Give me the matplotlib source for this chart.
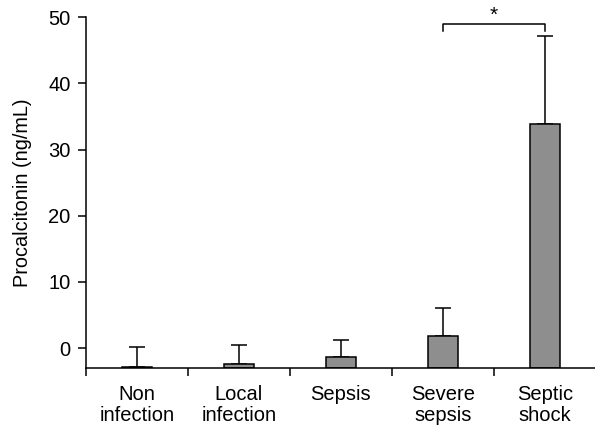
import matplotlib
matplotlib.use('Agg')
import matplotlib.pyplot as plt
import numpy as np

plt.rcParams['font.family'] = ['Liberation Sans', 'DejaVu Sans']

groups = ['Non\ninfection', 'Local\ninfection', 'Sepsis', 'Severe\nsepsis', 'Septic\nshock']
means = [-2.8, -2.35, -1.3, 1.8, 33.8]
upper_err = [2.95, 2.9, 2.6, 4.2, 13.4]
ybottom = -3.0

x = np.arange(len(groups))

fig = plt.figure(figsize=(5.95, 4.28), dpi=100)
ax = fig.add_axes([0.1445, 0.140, 0.857, 0.820])

heights = [m - ybottom for m in means]
ax.bar(x, heights, bottom=ybottom, width=0.3, color='#8e8e8e', edgecolor='black', linewidth=1.1, zorder=2)
ax.errorbar(x, means, yerr=[np.zeros(len(means)), upper_err], fmt='none', ecolor='black',
            elinewidth=1.1, capsize=6, capthick=1.1, zorder=1)

ax.set_xlim(-0.5, 4.5)
ax.set_ylim(ybottom, 50)
ax.set_yticks([0, 10, 20, 30, 40, 50])
ax.set_xticks(x)
ax.set_xticklabels(groups, fontsize=14.5, linespacing=1.15)
ax.set_xticks(np.arange(-0.5, 5, 1), minor=True)
ax.tick_params(axis='x', which='major', length=0, pad=12)
ax.tick_params(axis='x', which='minor', length=6, width=1.1)
ax.tick_params(axis='y', labelsize=14.5, length=6, width=1.1, pad=5)
ax.set_ylabel('Procalcitonin (ng/mL)', fontsize=14.3, labelpad=12)

for s in ['top', 'right']:
    ax.spines[s].set_visible(False)
for s in ['left', 'bottom']:
    ax.spines[s].set_linewidth(1.1)

# significance bracket
ax.plot([3.0, 3.0, 4.0, 4.0], [47.9, 49.0, 49.0, 47.9], color='black', lw=1.1, clip_on=False)
ax.text(3.5, 48.9, '*', ha='center', va='bottom', fontsize=15, clip_on=False)

fig.savefig('out.png', dpi=100)
